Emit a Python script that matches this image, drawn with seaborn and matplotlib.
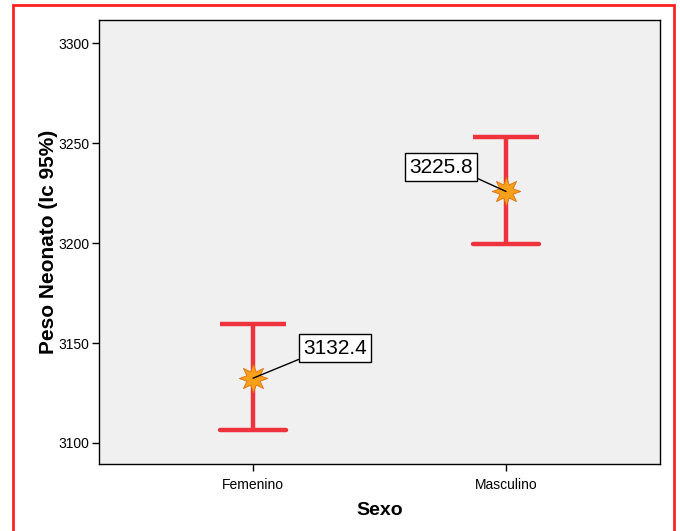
import matplotlib
matplotlib.use("Agg")
import matplotlib.pyplot as plt
import matplotlib.patches as patches
import pandas as pd
import seaborn as sns

sns.set_style("white")
plt.rcParams["font.family"] = ["Liberation Sans", "DejaVu Sans"]
plt.rcParams["text.color"] = "black"
plt.rcParams["axes.labelcolor"] = "black"
plt.rcParams["xtick.color"] = "black"
plt.rcParams["ytick.color"] = "black"

categories = ["Femenino", "Masculino"]
means = [3132.4, 3225.8]
ci_low = [3106.5, 3199.3]
ci_high = [3159.3, 3253.0]
y_ticks = [3100, 3150, 3200, 3250, 3300]

df = pd.DataFrame({
    "pos": range(len(categories)),
    "sexo": categories,
    "mean": means,
    "lo": ci_low,
    "hi": ci_high,
})

red = "#EF333D"

fig = plt.figure(figsize=(6.8, 5.31), dpi=100)
ax = fig.add_axes([0.1456, 0.1262, 0.825, 0.836])
ax.set_facecolor("#F0F0F0")

# error bars
ax.vlines(df["pos"], df["lo"], df["hi"], color=red, lw=3.2, zorder=2)
cap = 0.13
ax.hlines(df["lo"], df["pos"] - cap, df["pos"] + cap, color=red, lw=3.2,
          capstyle="round", zorder=2)
ax.hlines(df["hi"], df["pos"] - cap, df["pos"] + cap, color=red, lw=3.2,
          zorder=2)

# mean markers
sns.scatterplot(
    data=df,
    x="pos",
    y="mean",
    marker=(8, 1, 0),
    s=420,
    color="#F7A11A",
    edgecolor="#E07010",
    linewidth=0.6,
    zorder=3,
    ax=ax,
)

# value labels
label_pos = [(0.325, 3147.5), (0.745, 3238.0)]
rel = [(0.0, 0.0), (1.0, 0.0)]
for i, row in df.iterrows():
    ax.annotate(
        f"{row['mean']:.1f}",
        xy=(row["pos"], row["mean"]),
        xytext=label_pos[i],
        ha="center",
        va="center",
        fontsize=15,
        bbox=dict(boxstyle="square,pad=0.2", fc="white", ec="black", lw=1),
        arrowprops=dict(arrowstyle="-", color="black", lw=1,
                        relpos=rel[i], shrinkA=0, shrinkB=0),
        zorder=4,
    )

ax.set_xlim(-0.609, 1.609)
ax.set_ylim(3089.5, 3311.5)
ax.set_xticks(df["pos"])
ax.set_xticklabels(categories)
ax.set_yticks(y_ticks)
ax.tick_params(axis="y", direction="out", length=5, width=1,
               color="black", labelsize=10, left=True, pad=2)
ax.tick_params(axis="x", direction="out", length=5, width=1,
               color="black", labelsize=10, bottom=True, pad=5)
for s in ax.spines.values():
    s.set_color("black")
    s.set_linewidth(1)

ax.set_xlabel("Sexo", fontsize=14, fontweight="bold", labelpad=7)
ax.set_ylabel("Peso Neonato (Ic 95%)", fontsize=15, fontweight="bold",
              labelpad=0)

fig.patches.append(patches.Rectangle(
    (0.019, -0.02), 0.972, 1.0106, transform=fig.transFigure,
    fill=False, ec="#FF2020", lw=2, clip_on=False))

fig.savefig("out.png", dpi=100)
plt.close(fig)
